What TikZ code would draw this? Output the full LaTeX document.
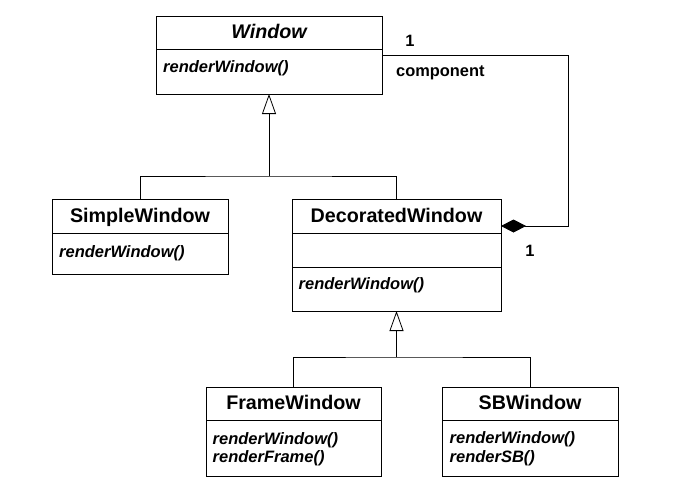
\documentclass[tikz,border=0pt]{standalone}
\usepackage{fontspec}
\setmainfont{Liberation Sans}
\usetikzlibrary{arrows.meta}
\tikzset{
  x=1pt, y=-1pt,
  umlbox/.style={draw=black, line width=0.8pt, rectangle, inner sep=0pt, outer sep=0pt},
  umltitle/.style={inner sep=0pt, font=\fontsize{19.7}{22}\selectfont\bfseries},
  umlmeth/.style={inner sep=0pt, font=\fontsize{16.5}{19}\selectfont\bfseries\itshape},
  umllabel/.style={inner sep=0pt, font=\fontsize{16.4}{19}\selectfont\bfseries},
  conn/.style={draw=black, line width=0.8pt},
  gen/.style={conn, -{Triangle[open, length=20pt, width=14pt, fill=white]}},
  comp/.style={conn, {Diamond[length=25pt, width=13pt, fill=black]}-},
}
\begin{document}
\begin{tikzpicture}
\useasboundingbox (0,0) rectangle (685,501);
% boxes
\node[umlbox, minimum width=226pt, minimum height=78pt] (window) at (269,55) {};
\node[umlbox, minimum width=176pt, minimum height=75pt] (simple) at (140,236.5) {};
\node[umlbox, minimum width=209pt, minimum height=112pt] (dec) at (396.5,255) {};
\node[umlbox, minimum width=175pt, minimum height=89pt] (frame) at (293.5,431.5) {};
\node[umlbox, minimum width=176pt, minimum height=89pt] (sb) at (530,431.5) {};
% dividers
\draw[conn] ([yshift=-33pt]window.north west) -- ([yshift=-33pt]window.north east);
\draw[conn] ([yshift=-34pt]simple.north west) -- ([yshift=-34pt]simple.north east);
\draw[conn] ([yshift=-34pt]dec.north west) -- ([yshift=-34pt]dec.north east);
\draw[conn] ([yshift=-68pt]dec.north west) -- ([yshift=-68pt]dec.north east);
\draw[conn] ([yshift=-33pt]frame.north west) -- ([yshift=-33pt]frame.north east);
\draw[conn] ([yshift=-33pt]sb.north west) -- ([yshift=-33pt]sb.north east);
% titles
\node[umltitle, anchor=base] (twindow) at ([yshift=-22.5pt]window.north) {\itshape Window};
\node[umltitle, anchor=base] (tsimple) at ([yshift=-23.5pt]simple.north) {SimpleWindow};
\node[umltitle, anchor=base] (tdec) at ([yshift=-23pt]dec.north) {DecoratedWindow};
\node[umltitle, anchor=base] (tframe) at ([yshift=-22.5pt]frame.north) {FrameWindow};
\node[umltitle, anchor=base] (tsb) at ([yshift=-22.5pt]sb.north) {SBWindow};
% methods
\node[umlmeth, anchor=base west] (mwindow) at ([xshift=7pt, yshift=-56pt]window.north west) {renderWindow()};
\node[umlmeth, anchor=base west] (msimple) at ([xshift=7pt, yshift=-58pt]simple.north west) {renderWindow()};
\node[umlmeth, anchor=base west] (mdec) at ([xshift=6.5pt, yshift=-90pt]dec.north west) {renderWindow()};
\node[umlmeth, anchor=base west] (mframea) at ([xshift=6.5pt, yshift=-57pt]frame.north west) {renderWindow()};
\node[umlmeth, anchor=base west] (mframeb) at ([xshift=6.5pt, yshift=-75pt]frame.north west) {renderFrame()};
\node[umlmeth, anchor=base west] (msba) at ([xshift=7.5pt, yshift=-56pt]sb.north west) {renderWindow()};
\node[umlmeth, anchor=base west] (msbb) at ([xshift=7.5pt, yshift=-75pt]sb.north west) {renderSB()};
% generalization 1
\coordinate (j1) at (269,176);
\draw[conn] (simple.north) |- (j1) -| (dec.north);
\draw[gen] (j1) -- (window.south);
% generalization 2
\coordinate (j2) at (396.5,357);
\draw[conn] (frame.north) |- (j2) -| (sb.north);
\draw[gen] (j2) -- (dec.south);
% composition
\coordinate (dport) at ([yshift=-27pt]dec.north east);
\coordinate (cr) at (568,55);
\draw[comp] (dport) -| (cr) -- (window.east);
% labels
\node[umllabel, anchor=base] (l1) at (410,46) {1};
\node[umllabel, anchor=base west] (lcomp) at (396,76) {component};
\node[umllabel, anchor=base] (l2) at (530,256) {1};
\end{tikzpicture}
\end{document}
